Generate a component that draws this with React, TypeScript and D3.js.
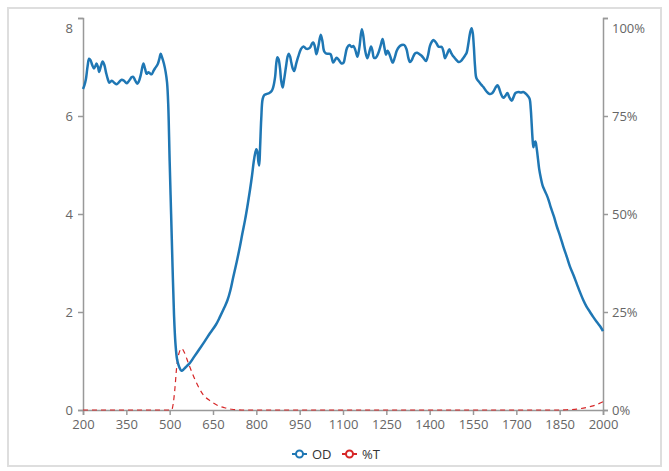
import React, { useEffect, useRef } from "react";
import * as d3 from "d3";

// Wavelength (nm) and optical density
const odWavelength = [
  200, 205, 210, 216, 221, 226, 232, 238, 243, 247, 252, 256, 262, 268, 274, 280, 286, 291, 300, 308,
  317, 326, 334, 342, 351, 357, 363, 368, 374, 381, 388, 393, 400, 409, 415, 420, 425, 430, 435, 439,
  444, 449, 458, 464, 469, 474, 480, 486, 491, 495, 500, 505, 510, 515, 520, 526, 533, 541, 550, 560,
  570, 585, 605, 620, 640, 660, 674, 690, 700, 710, 720, 732, 743, 752, 761, 770, 778, 785, 791, 796,
  800, 804, 807, 810, 813, 817, 822, 828, 836, 845, 853, 858, 865, 869, 873, 877, 882, 886, 891, 896,
  903, 908, 912, 917, 921, 926, 931, 938, 945, 954, 963, 974, 985, 993, 997, 1002, 1008, 1015, 1023, 1029,
  1034, 1040, 1049, 1057, 1066, 1072, 1078, 1086, 1095, 1102, 1107, 1114, 1122, 1130, 1136, 1143, 1150, 1157, 1165, 1170,
  1176, 1184, 1190, 1197, 1202, 1207, 1214, 1222, 1230, 1237, 1243, 1249, 1254, 1258, 1265, 1272, 1279, 1286, 1294, 1303,
  1312, 1320, 1326, 1332, 1338, 1343, 1350, 1357, 1365, 1372, 1380, 1387, 1394, 1401, 1408, 1413, 1419, 1424, 1430, 1436,
  1442, 1448, 1453, 1460, 1468, 1474, 1480, 1486, 1493, 1500, 1508, 1516, 1523, 1528, 1534, 1540, 1545, 1549, 1553, 1557,
  1562, 1572, 1580, 1586, 1597, 1607, 1615, 1622, 1628, 1635, 1640, 1647, 1655, 1662, 1669, 1676, 1684, 1690, 1697, 1707,
  1716, 1724, 1732, 1740, 1746, 1750, 1753, 1756, 1759, 1763, 1766, 1770, 1775, 1779, 1785, 1791, 1798, 1805, 1812, 1819,
  1830, 1840, 1852, 1863, 1875, 1886, 1898, 1909, 1920, 1932, 1943, 1955, 1966, 1978, 1990, 2000,
];
const odValues = [
  6.55, 6.63, 6.75, 7.02, 7.17, 7.14, 7.04, 6.97, 7.02, 7.07, 7.0, 6.9, 7.02, 7.11, 7.04, 6.88, 6.75, 6.68, 6.72, 6.68,
  6.65, 6.7, 6.74, 6.72, 6.67, 6.7, 6.75, 6.79, 6.8, 6.72, 6.66, 6.7, 6.84, 7.07, 6.96, 6.86, 6.89, 6.88, 6.85, 6.86,
  6.92, 6.97, 7.05, 7.16, 7.27, 7.19, 7.07, 6.9, 6.68, 6.24, 5.07, 4.0, 2.92, 1.95, 1.36, 1.02, 0.88, 0.8, 0.84, 0.9,
  0.96, 1.09, 1.26, 1.39, 1.57, 1.74, 1.9, 2.1, 2.24, 2.44, 2.71, 3.02, 3.33, 3.61, 3.88, 4.19, 4.49, 4.78, 5.07, 5.24,
  5.32, 5.26, 5.07, 4.99, 5.36, 5.94, 6.35, 6.43, 6.45, 6.47, 6.51, 6.58, 6.8, 7.07, 7.2, 7.16, 6.97, 6.72, 6.58, 6.74,
  7.02, 7.21, 7.27, 7.21, 7.09, 6.97, 6.92, 7.07, 7.21, 7.36, 7.42, 7.37, 7.39, 7.48, 7.5, 7.43, 7.26, 7.43, 7.66, 7.52,
  7.33, 7.28, 7.27, 7.26, 7.09, 7.14, 7.19, 7.14, 7.07, 7.09, 7.21, 7.39, 7.45, 7.41, 7.43, 7.34, 7.21, 7.41, 7.77, 7.65,
  7.36, 7.18, 7.28, 7.42, 7.33, 7.19, 7.19, 7.28, 7.43, 7.57, 7.41, 7.25, 7.33, 7.3, 7.19, 7.09, 7.19, 7.33, 7.41, 7.45,
  7.45, 7.36, 7.19, 7.1, 7.14, 7.21, 7.28, 7.29, 7.26, 7.23, 7.17, 7.12, 7.23, 7.43, 7.52, 7.55, 7.52, 7.48, 7.42, 7.41,
  7.41, 7.31, 7.18, 7.26, 7.36, 7.29, 7.23, 7.19, 7.14, 7.1, 7.12, 7.18, 7.24, 7.29, 7.48, 7.7, 7.79, 7.7, 7.41, 7.02,
  6.77, 6.69, 6.63, 6.59, 6.5, 6.45, 6.46, 6.51, 6.58, 6.63, 6.57, 6.45, 6.37, 6.41, 6.47, 6.38, 6.31, 6.38, 6.47, 6.49,
  6.48, 6.49, 6.46, 6.41, 6.35, 6.14, 5.85, 5.55, 5.36, 5.46, 5.48, 5.36, 5.12, 4.92, 4.73, 4.58, 4.48, 4.39, 4.28, 4.14,
  3.95, 3.75, 3.54, 3.33, 3.12, 2.92, 2.75, 2.58, 2.41, 2.24, 2.11, 2.0, 1.9, 1.8, 1.71, 1.61,
];

// Wavelength (nm) and transmission (%)
const tWavelength = [
  200, 350, 500, 507, 512, 518, 524, 532, 542, 550, 565, 588, 617, 640, 663, 690, 715, 740, 760,
  800, 1200, 1600, 1850, 1863, 1886, 1909, 1932, 1955, 1978, 2000,
];
const tValues = [
  0, 0, 0, 0, 1.46, 5.36, 10.72, 14.42, 15.69, 14.81, 11.89, 7.7, 3.8, 2.34, 1.27, 0.58, 0.19, 0.05, 0,
  0, 0, 0, 0, 0.04, 0.1, 0.21, 0.49, 0.87, 1.37, 2.14,
];

const xTicks = [200, 350, 500, 650, 800, 950, 1100, 1250, 1400, 1550, 1700, 1850, 2000];
const leftTicks = [0, 2, 4, 6, 8];
const rightTicks = [0, 25, 50, 75, 100];
const seriesNames = ["OD", "%T"];
const seriesColors = ["#1f77b4", "#d62728"];

export default function App() {
  const ref = useRef<SVGSVGElement>(null);

  useEffect(() => {
    const svg = d3.select(ref.current);
    svg.selectAll("*").remove();

    const font = "'Open Sans', 'Noto Sans', sans-serif";
    const x = d3.scaleLinear().domain([200, 2000]).range([83, 603]);
    const yL = d3.scaleLinear().domain([0, 8]).range([410, 18]);
    const yR = d3.scaleLinear().domain([0, 100]).range([410, 18]);

    // frame
    svg
      .append("rect")
      .attr("x", 8)
      .attr("y", 8)
      .attr("width", 653)
      .attr("height", 458)
      .attr("fill", "#fff")
      .attr("stroke", "#dedede")
      .attr("stroke-width", 2);

    const styleAxis = (g: any) => {
      g.select(".domain").attr("stroke", "#999").attr("stroke-width", 1.5);
      g.selectAll(".tick line").attr("stroke", "#999").attr("stroke-width", 1.5);
      g.selectAll(".tick text")
        .attr("fill", "#666")
        .style("font-family", font)
        .style("font-size", "13px");
    };

    const shiftTopLabel = (g: any, top: number) => {
      g.selectAll(".tick")
        .filter((d: any) => d === top)
        .select("text")
        .attr("dy", "1.1em");
    };

    svg
      .append("g")
      .attr("transform", "translate(83,0)")
      .call(d3.axisLeft(yL).tickValues(leftTicks).tickSize(5).tickPadding(5).tickFormat(d3.format("d")))
      .call(styleAxis)
      .call((g: any) => shiftTopLabel(g, 8));

    svg
      .append("g")
      .attr("transform", "translate(603,0)")
      .call(
        d3
          .axisRight(yR)
          .tickValues(rightTicks)
          .tickSize(5)
          .tickPadding(4)
          .tickFormat((d: any) => `${d}%`)
      )
      .call(styleAxis)
      .call((g: any) => shiftTopLabel(g, 100));

    svg
      .append("g")
      .attr("transform", "translate(0,410)")
      .call(d3.axisBottom(x).tickValues(xTicks).tickSize(5).tickPadding(5).tickFormat(d3.format("d")))
      .call(styleAxis);

    const odData = odWavelength.map((w, i) => [w, odValues[i]] as [number, number]);
    const tData = tWavelength.map((w, i) => [w, tValues[i]] as [number, number]);

    const odLine = d3
      .line<[number, number]>()
      .x((d) => x(d[0]))
      .y((d) => yL(d[1]))
      .curve(d3.curveCatmullRom.alpha(0.5));
    const tLine = d3
      .line<[number, number]>()
      .x((d) => x(d[0]))
      .y((d) => yR(d[1]))
      .curve(d3.curveMonotoneX);

    svg
      .append("path")
      .datum(tData)
      .attr("d", tLine)
      .attr("fill", "none")
      .attr("stroke", seriesColors[1])
      .attr("stroke-width", 1.2)
      .attr("stroke-dasharray", "5,4");

    svg
      .append("path")
      .datum(odData)
      .attr("d", odLine)
      .attr("fill", "none")
      .attr("stroke", seriesColors[0])
      .attr("stroke-width", 2.5)
      .attr("stroke-linejoin", "round");

    // legend
    const legend = svg.append("g").attr("transform", "translate(292,454)");
    const offsets = [0, 50];
    seriesNames.forEach((name, i) => {
      const g = legend.append("g").attr("transform", `translate(${offsets[i]},0)`);
      g.append("line")
        .attr("x1", 0)
        .attr("x2", 15)
        .attr("y1", 0)
        .attr("y2", 0)
        .attr("stroke", seriesColors[i])
        .attr("stroke-width", 2);
      g.append("circle")
        .attr("cx", 7.5)
        .attr("cy", 0)
        .attr("r", 3.5)
        .attr("fill", "#fff")
        .attr("stroke", seriesColors[i])
        .attr("stroke-width", 2);
      g.append("text")
        .attr("x", 20)
        .attr("y", 0)
        .attr("dy", "0.35em")
        .attr("fill", "#333")
        .style("font-family", font)
        .style("font-size", "13px")
        .text(name);
    });
  }, []);

  return (
    <svg
      ref={ref}
      width={669}
      height={471}
      style={{ position: "absolute", left: 0, top: 0, background: "#fff" }}
    />
  );
}
